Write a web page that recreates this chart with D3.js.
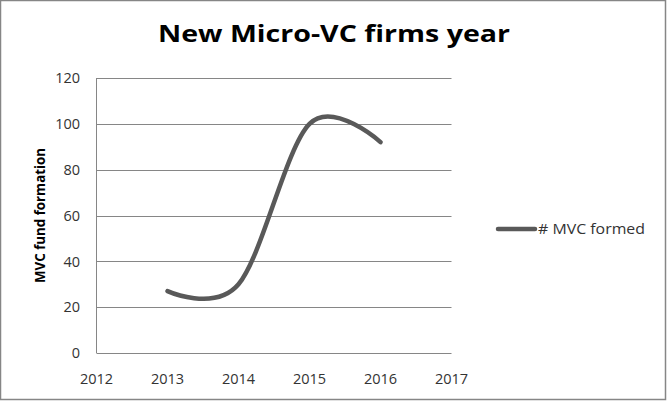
<!DOCTYPE html>
<html><head><meta charset="utf-8">
<script src="https://cdn.jsdelivr.net/npm/d3@7"></script>
<style>body{margin:0;background:#fff}svg{display:block}</style>
</head><body>
<svg id="c" width="667" height="401"></svg>
<script>
const years = [2013, 2014, 2015, 2016];
const mvcFormed = [27, 30, 100, 92];
const xTicks = [2012, 2013, 2014, 2015, 2016, 2017];
const yTicks = [0, 20, 40, 60, 80, 100, 120];
const seriesName = "# MVC formed";
const titleText = "New Micro-VC firms year";
const yTitle = "MVC fund formation";

const svg = d3.select("#c");
const font = "'Open Sans', 'Liberation Sans', sans-serif";
svg.append("rect").attr("x",0.5).attr("y",0.5).attr("width",665).attr("height",399)
  .attr("fill","#fff").attr("stroke","#868686").attr("stroke-width",1.5);

const x = d3.scaleLinear().domain([2012, 2017]).range([96.5, 451.5]);
const y = d3.scaleLinear().domain([0, 120]).range([353, 78]);

// gridlines
svg.append("g").selectAll("line").data(yTicks).join("line")
  .attr("x1", x(2012)).attr("x2", x(2017))
  .attr("y1", d => Math.round(y(d)) + 0.5).attr("y2", d => Math.round(y(d)) + 0.5)
  .attr("stroke", "#868686").attr("stroke-width", 1);
// y axis line
svg.append("line").attr("x1", x(2012)).attr("x2", x(2012))
  .attr("y1", y(120)).attr("y2", y(0)).attr("stroke","#868686");

// y tick labels
svg.append("g").selectAll("text").data(yTicks).join("text")
  .attr("x", 80).attr("y", d => y(d)).attr("dy","0.36em")
  .attr("text-anchor","end").attr("font-family",font).attr("font-size",14.5)
  .attr("fill","#333").text(d => d);
// x tick labels
svg.append("g").selectAll("text").data(xTicks).join("text")
  .attr("x", d => x(d)).attr("y", 383.5)
  .attr("text-anchor","middle").attr("font-family",font).attr("font-size",14.5)
  .attr("fill","#333").text(d => d);

// title
svg.append("text").attr("x", 334).attr("y", 42).attr("text-anchor","middle")
  .attr("font-family",font).attr("font-weight","bold").attr("font-size",23.5)
  .attr("textLength",352).attr("lengthAdjust","spacingAndGlyphs")
  .attr("fill","#000").text(titleText);

// y title
svg.append("text").attr("transform","translate(40,215.5) rotate(-90)")
  .attr("text-anchor","middle").attr("dy","0.35em")
  .attr("font-family",font).attr("font-weight","bold").attr("font-size",14)
  .attr("textLength",135).attr("lengthAdjust","spacingAndGlyphs")
  .attr("fill","#000").text(yTitle);

// line
const data = years.map((yr, i) => [yr, mvcFormed[i]]);
const line = d3.line().x(d => x(d[0])).y(d => y(d[1])).curve(d3.curveCardinal.tension(0));
svg.append("path").datum(data).attr("d", line)
  .attr("fill","none").attr("stroke","#595959").attr("stroke-width",4.5)
  .attr("stroke-linecap","round");

// legend
svg.append("line").attr("x1",498).attr("x2",535).attr("y1",229).attr("y2",229)
  .attr("stroke","#595959").attr("stroke-width",4.5).attr("stroke-linecap","round");
svg.append("text").attr("x",538).attr("y",229).attr("dy","0.36em")
  .attr("font-family",font).attr("font-size",14.5).attr("fill","#333")
  .attr("textLength",107).attr("lengthAdjust","spacingAndGlyphs").text(seriesName);
</script>
</body></html>
